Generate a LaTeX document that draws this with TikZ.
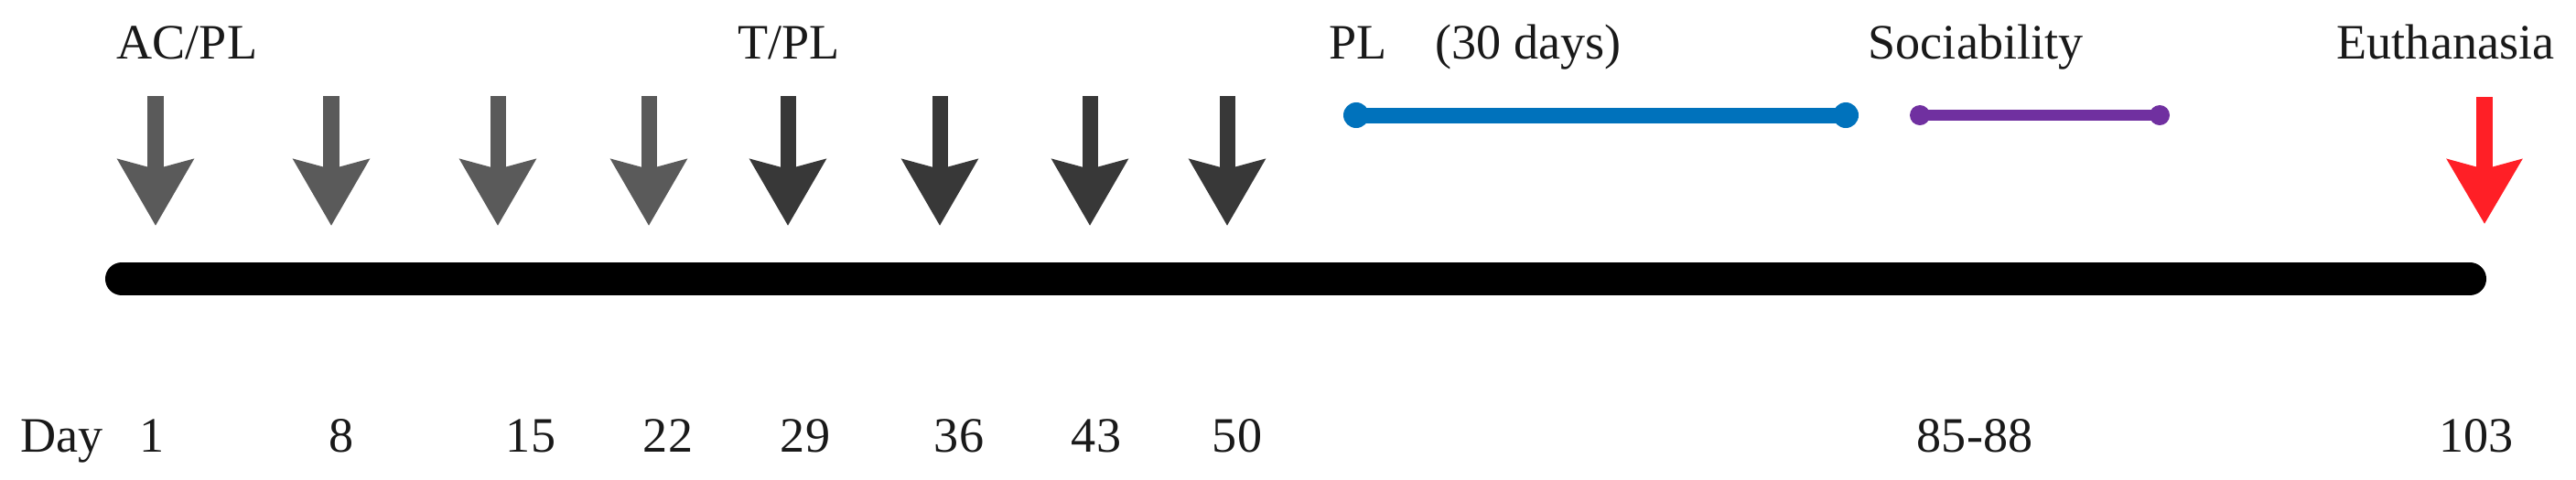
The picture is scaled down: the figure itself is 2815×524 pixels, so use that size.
\documentclass[tikz,border=0pt]{standalone}
\usepackage{fontspec}
\setmainfont{Liberation Serif}
\usetikzlibrary{arrows.meta}
\definecolor{lightgray}{HTML}{5A5A5A}
\definecolor{darkgray}{HTML}{383838}
\definecolor{plblue}{HTML}{0072BC}
\definecolor{socpurple}{HTML}{7030A0}
\definecolor{euthred}{HTML}{FF1F26}
\tikzset{
  lbl/.style={inner sep=0pt, font=\fontsize{15.4}{18}\selectfont, text=black!90},
  toplbl/.style={lbl, anchor=base west},
  daylbl/.style={lbl, anchor=base},
  injarrow/.style={line width=0.17cm, -{Stealth[length=0.72cm, width=0.81cm, inset=0.10cm]}},
  bdot/.style={circle, fill=plblue, inner sep=0pt, minimum size=0.28cm},
  pdot/.style={circle, fill=socpurple, inner sep=0pt, minimum size=0.22cm},
}
\begin{document}
\begin{tikzpicture}[x=0.01cm, y=-0.01cm]
\useasboundingbox (0,0) rectangle (2815,524);
% top labels
\node[toplbl] (acpl) at (127,64) {AC/PL};
\node[toplbl] (tpl) at (806,64) {T/PL};
\node[toplbl] (pl) at (1452,64) {PL};
\node[toplbl] (days30) at (1568,64) {(30 days)};
\node[toplbl] (soc) at (2041,64) {Sociability};
\node[toplbl] (euth) at (2553,64) {Euthanasia};
% injection arrows
\foreach \i/\x/\c in {1/170/lightgray, 2/362/lightgray, 3/544/lightgray, 4/709/lightgray,
                      5/861/darkgray, 6/1027/darkgray, 7/1191/darkgray, 8/1341/darkgray} {
  \coordinate (a\i t) at (\x,105);
  \coordinate (a\i b) at (\x,247);
  \draw[injarrow, draw=\c, fill=\c] (a\i t) -- (a\i b);
}
% euthanasia arrow
\coordinate (et) at (2715,106);
\coordinate (eb) at (2715,245);
\draw[line width=0.18cm, draw=euthred, fill=euthred,
      -{Stealth[length=0.70cm, width=0.80cm, inset=0.10cm]}] (et) -- (eb);
% PL period
\node[bdot] (b1) at (1482,126) {};
\node[bdot] (b2) at (2017,126) {};
\draw[line width=0.17cm, plblue] (b1.center) -- (b2.center);
% sociability period
\node[pdot] (p1) at (2098,126) {};
\node[pdot] (p2) at (2360,126) {};
\draw[line width=0.12cm, socpurple] (p1.center) -- (p2.center);
% time line
\coordinate (tl1) at (133,305);
\coordinate (tl2) at (2699,305);
\draw[line width=0.36cm, line cap=round, black] (tl1) -- (tl2);
% day labels
\node[toplbl] (day) at (22,494) {Day};
\foreach \n/\x/\t in {d1/166/1, d8/373/8, d15/580/15, d22/730/22, d29/880/29,
                      d36/1048/36, d43/1198/43, d50/1352/50, d85/2158/85-88, d103/2706/103} {
  \node[daylbl] (\n) at (\x,494) {\t};
}
\end{tikzpicture}
\end{document}
